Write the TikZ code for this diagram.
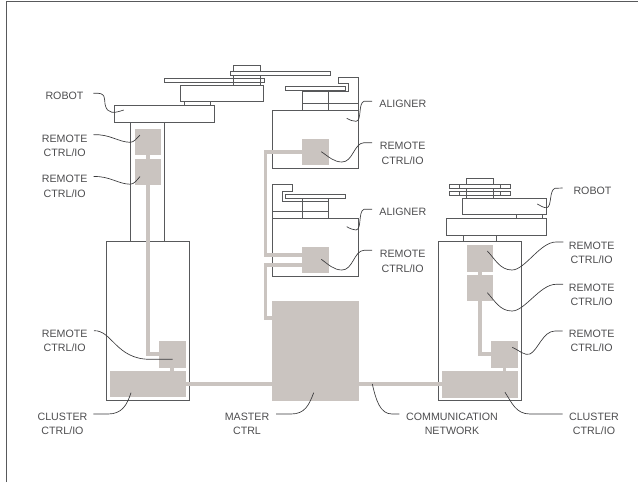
\documentclass[tikz,border=0pt]{standalone}
\usepackage{fontspec}
\setmainfont{Liberation Sans}
\definecolor{inkc}{HTML}{58595B}
\definecolor{txtc}{HTML}{4D4D4F}
\definecolor{leadc}{HTML}{3A3A3C}
\definecolor{busc}{HTML}{CAC4C0}
\newcommand{\gbox}[5]{\path[graybox] (#2,#3) rectangle (#4,#5);
  \coordinate (#1) at ({(#2+#4)/2},{(#3+#5)/2});}
\tikzset{
  part/.style={draw=inkc,line width=0.7pt,line join=miter},
  graybox/.style={fill=busc,draw=white,line width=0.5pt},
  bus/.style={draw=busc,line width=2.8pt},
  leader/.style={draw=leadc,line width=0.5pt},
  lab/.style={font=\fontsize{8}{8}\selectfont,text=txtc,inner sep=0pt,align=center,anchor=center}
}
\begin{document}
\begin{tikzpicture}[x=0.75pt,y=-0.75pt]
\useasboundingbox (0,0) rectangle (638,482);
% frame
\draw[part] (6,482) -- (6,1.5) -- (638,1.5);
% left robot
\draw[part] (106,241) rectangle (189,400.7);
\draw[part] (130.5,122) rectangle (164.5,241);
\draw[part] (114,105) rectangle (214,122);
\draw[part] (184,105) -- (184,101.7) (210.7,101.7) -- (210.7,105);
\draw[part] (180.7,85.3) rectangle (263.7,101.7);
\draw[part] (164,78.7) rectangle (264,82.3);
\draw[part] (230,71.7) rectangle (330,75.3);
\draw[part] (233,71.7) -- (233,65) -- (260.7,65) -- (260.7,71.7);
\draw[part] (233,75.3) -- (233,85.3) (260.7,75.3) -- (260.7,85.3);
% aligner 1
\draw[part] (272,110) rectangle (358.7,168.3);
\draw[part] (302,110) -- (302,91.7) -- (348.3,91.7) -- (348.3,83.3) -- (338.3,83.3) -- (338.3,77) -- (358.7,77) -- (358.7,110);
\draw[part] (302,103.3) -- (358.7,103.3);
\draw[part] (328.7,91.7) -- (328.7,110);
\draw[part] (285.3,86.7) rectangle (345.7,90.3);
\draw[part] (302,90.3) -- (302,91.7) (328.7,90.3) -- (328.7,91.7);
% aligner 2
\draw[part] (272,218.3) rectangle (358.7,276);
\draw[part] (272,218.3) -- (272,184.7) -- (292.3,184.7) -- (292.3,191.3) -- (282,191.3) -- (282,201.3) -- (328.7,201.3) -- (328.7,218.3);
\draw[part] (272,211.3) -- (328.7,211.3);
\draw[part] (302,198.3) -- (302,218.3);
\draw[part] (285.3,194.7) rectangle (345.7,198.3);
\draw[part] (328.7,198.3) -- (328.7,201.3);
% right robot
\draw[part] (438,241) rectangle (521.7,400.7);
\draw[part] (463,235.3) rectangle (496.7,241);
\draw[part] (446.3,218.3) rectangle (546.7,235.3);
\draw[part] (516,218.3) -- (516,214.7) (542.7,214.7) -- (542.7,218.3);
\draw[part] (462.7,198) rectangle (546.7,214.7);
\draw[part] (466,184.7) -- (466,178) -- (493,178) -- (493,184.7);
\draw[part] (449.7,184.7) rectangle (510,188.7);
\draw[part] (449.7,191.3) rectangle (510,195);
\draw[part] (466,188.7) -- (466,198) (493,188.7) -- (493,198);
\draw[part] (459.3,184.7) -- (459.3,188.7) (459.3,191.3) -- (459.3,195);
\draw[part] (500,184.7) -- (500,188.7) (500,191.3) -- (500,195);
% positions of bus corners
\coordinate (busTop) at (265.5,151.7);
\coordinate (busA) at (265.5,255);
\coordinate (busB) at (265.5,265);
\coordinate (busM) at (265.5,318);
\coordinate (a2up) at (315.3,255);
\coordinate (a2lo) at (315.3,265);
\coordinate (mL) at (315,318);
\coordinate (lr1) at (147.7,141.5);
\coordinate (lr2) at (147.7,171.5);
\coordinate (lr3) at (172.3,354.3);
\coordinate (lcl) at (172.3,384.3);
\coordinate (mst) at (315,384.3);
\coordinate (a1) at (315.3,151.7);
\coordinate (rr1) at (480,258.3);
\coordinate (rr2) at (480,288);
\coordinate (rr3) at (504.5,354.3);
\coordinate (rcl) at (504.5,384.3);
% gray boxes
\gbox{g1}{134}{128}{161.3}{155}
\gbox{g2}{134}{158}{161.3}{185}
\gbox{g3}{158.5}{340.7}{186}{368}
\gbox{g4}{109}{370.7}{186}{397.7}
\gbox{g5}{271.3}{300.7}{359}{401.3}
\gbox{g6}{301.7}{138}{329}{165.3}
\gbox{g7}{301.7}{246}{329}{273.3}
\gbox{g8}{466}{244.7}{493.3}{272}
\gbox{g9}{466}{274}{493.3}{301.7}
\gbox{g10}{490.7}{340.7}{518.3}{368}
\gbox{g11}{441}{370.3}{518.3}{398}
% buses
\draw[bus] (lr1) -- (lr2) |- (lr3) -- (lcl) -- (mst);
\draw[bus] (a1) -- (busTop) -- (busA) -- (a2up);
\draw[bus] (a2lo) -- (busB) -- (busM) -- (mL);
\draw[bus] (mst) -- (rcl);
\draw[bus] (rr1) -- (rr2) |- (rr3) -- (rcl);
% labels
\node[lab] (tRobotL) at (64.5,96.3) {ROBOT};
\node[lab] (tRemL1) at (64.7,145.8) {REMOTE\\[2.9pt]CTRL/IO};
\node[lab] (tRemL2) at (64.7,186.5) {REMOTE\\[2.9pt]CTRL/IO};
\node[lab] (tRemL3) at (64.7,341) {REMOTE\\[2.9pt]CTRL/IO};
\node[lab] (tClL) at (62.5,424) {CLUSTER\\[2.9pt]CTRL/IO};
\node[lab] (tMaster) at (247,424) {MASTER\\[2.9pt]CTRL};
\node[lab] (tComm) at (452,424) {COMMUNICATION\\[2.9pt]NETWORK};
\node[lab] (tClR) at (594,424) {CLUSTER\\[2.9pt]CTRL/IO};
\node[lab] (tRemR3) at (591.7,341) {REMOTE\\[2.9pt]CTRL/IO};
\node[lab] (tRemR2) at (591.7,294.7) {REMOTE\\[2.9pt]CTRL/IO};
\node[lab] (tRemR1) at (591.7,253) {REMOTE\\[2.9pt]CTRL/IO};
\node[lab] (tRobotR) at (592.5,191) {ROBOT};
\node[lab] (tAl1) at (402.8,103.7) {ALIGNER};
\node[lab] (tRemA1) at (402.7,153.5) {REMOTE\\[2.9pt]CTRL/IO};
\node[lab] (tAl2) at (402.8,212) {ALIGNER};
\node[lab] (tRemA2) at (402.7,261.5) {REMOTE\\[2.9pt]CTRL/IO};
% leaders
\draw[leader] (93.3,93.3) .. controls (107,92) and (104,99) .. (105,104) .. controls (107,115) and (115,113) .. (123.7,110);
\draw[leader] (93.5,134.7) .. controls (110,134) and (118,142) .. (130,142.3) .. controls (134,142.5) and (137,138) .. (140,135);
\draw[leader] (93.5,176.5) .. controls (110,176) and (118,184) .. (130,184.2) .. controls (134,184.4) and (137,180) .. (140,176.5);
\draw[leader] (94,330.7) .. controls (112,330) and (116,359.3) .. (150,359.3) -- (172.7,359.3);
\draw[leader] (93.3,414) -- (108,414) .. controls (122,414) and (127,405) .. (131,392.7);
\draw[leader] (276,414) -- (291,414) .. controls (305,414) and (309,405) .. (313.7,392.7);
\draw[leader] (372.3,384) .. controls (376,400) and (380,414) .. (392,414) -- (399.3,414);
\draw[leader] (505,392.3) .. controls (512,403) and (516,414) .. (530,414) -- (562.7,414);
\draw[leader] (512.3,347.3) .. controls (520,351) and (525,356) .. (530,354) .. controls (538,350) and (543,331) .. (555,331) -- (562.7,331);
\draw[leader] (487.3,292.7) .. controls (495,301) and (500,311) .. (512,311) .. controls (525,311) and (540,284.3) .. (556,284.3) -- (563,284.3);
\draw[leader] (487.3,251) .. controls (495,259) and (500,270) .. (512,270) .. controls (525,270) and (540,242) .. (556,242) -- (563.3,242);
\draw[leader] (537.3,204) .. controls (541,206) and (544,208) .. (546.7,207.7) .. controls (552,207) and (549,190) .. (555,188.3) -- (562.7,188);
\draw[leader] (346.7,118.3) .. controls (350,120) and (353,121.5) .. (356,121.3) .. controls (362,121) and (358,103) .. (364,101.3) -- (372,101.3);
\draw[leader] (321.3,151.7) .. controls (329,157) and (334,162) .. (342,162) .. controls (353,162) and (354,143) .. (364,142.7) -- (372,142.7);
\draw[leader] (346.7,226.7) .. controls (350,228.5) and (353,230) .. (356,230) .. controls (362,229.5) and (358,211) .. (364,209.3) -- (372,209.3);
\draw[leader] (321.3,259.3) .. controls (329,265) and (334,270) .. (342,270) .. controls (353,270) and (354,250.6) .. (364,250.3) -- (372,250.3);
\end{tikzpicture}
\end{document}
